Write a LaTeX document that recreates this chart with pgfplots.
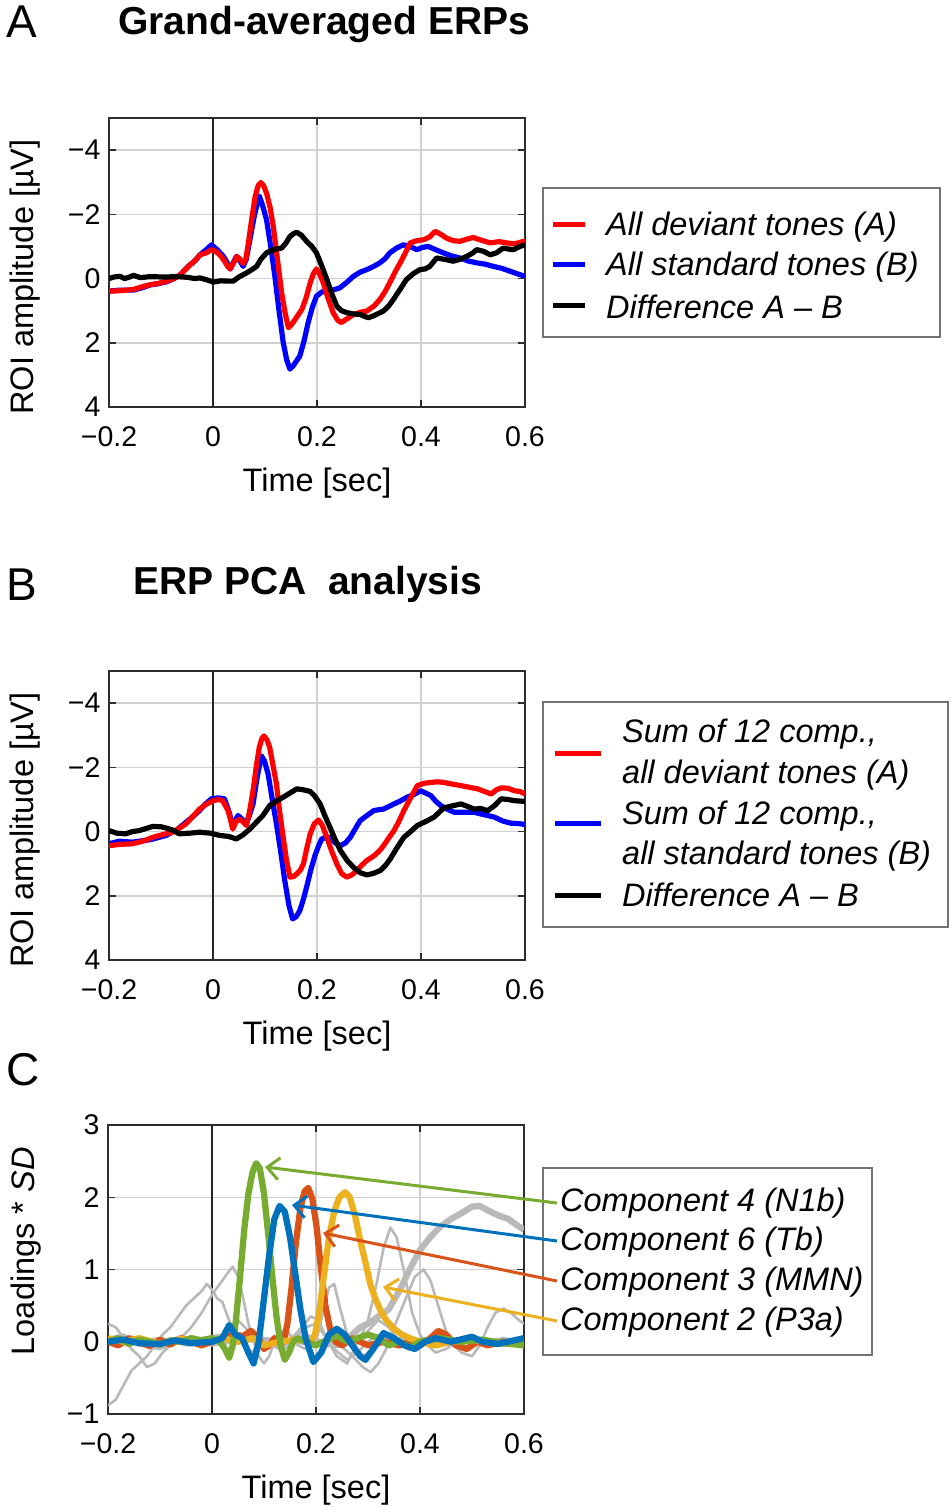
\documentclass[border=0pt]{standalone}
\usepackage{pgfplots}
\pgfplotsset{compat=1.18}
\usepackage{fontspec}
\setmainfont{Liberation Sans}
\usetikzlibrary{arrows.meta}
\definecolor{cblue}{rgb}{0,0.447,0.741}
\definecolor{corange}{rgb}{0.85,0.325,0.098}
\definecolor{cyellow}{rgb}{0.929,0.694,0.125}
\definecolor{cgreen}{rgb}{0.466,0.674,0.188}
\definecolor{cgray}{RGB}{185,185,185}
\definecolor{axc}{RGB}{45,45,45}
\pgfplotsset{
  erp/.style={
    scale only axis, width=416pt, height=289pt, anchor=south west,
    xmin=-0.2, xmax=0.6,
    xtick={-0.2,0,0.2,0.4,0.6}, xticklabels={−0.2,0,0.2,0.4,0.6},
    grid=major, grid style={line width=1.5pt, color=black!18},
    axis line style={line width=1.8pt, color=axc},
    tick style={line width=1.5pt, color=axc},
    major tick length=7pt, tick align=inside, tick pos=both,
    ticklabel style={font=\fontsize{28.5}{30}\selectfont, text=black},
    xticklabel style={yshift=-16pt},
    yticklabel style={xshift=-5pt},
    label style={font=\fontsize{32.5}{36}\selectfont},
    xlabel={Time [sec]},
    xlabel style={anchor=center, at={(axis description cs:0.5,-0.262)}},
    ylabel style={anchor=center, rotate=0},
    /pgf/number format/assume math mode=true,
  },
  abaxis/.style={erp, y dir=reverse, ymin=-5, ymax=4,
    ytick={-4,-2,0,2,4}, yticklabels={−4,−2,0,2,4},
    ylabel={ROI amplitude [µV]},
    ylabel style={at={(axis description cs:-0.202,0.45)}}},
  erpline/.style={line width=5.2pt, line join=round},
  compline/.style={line width=6.3pt, line join=round},
  thingray/.style={cgray, line width=2.6pt, line join=round},
}
\begin{document}
\begin{tikzpicture}
\useasboundingbox (0pt,0pt) rectangle (952pt,-1507pt);
\fill[white] (0pt,0pt) rectangle (952pt,-1507pt);

% ---------------- Panel A ----------------
\node[anchor=west, inner sep=0pt, font=\fontsize{46}{50}\selectfont] at (6pt,-22pt) {A};
\node[anchor=west, inner sep=0pt, font=\fontsize{39}{44}\selectfont\bfseries] at (118pt,-25pt) {Grand-averaged ERPs};
\begin{axis}[abaxis, at={(109pt,-407pt)}]
\addplot[black!85, line width=1.5pt, forget plot] coordinates {(0,-5) (0,4)};
\addplot[blue, erpline] coordinates {
(-0.2,0.39)(-0.18,0.36)(-0.153,0.36)(-0.135,0.28)(-0.121,0.2)(-0.105,0.16)(-0.089,0.1)(-0.075,0.0)(-0.063,-0.12)(-0.052,-0.3)(-0.044,-0.43)(-0.035,-0.55)(-0.025,-0.74)(-0.013,-0.9)(-0.003,-1.05)(0.008,-0.9)(0.02,-0.69)(0.027,-0.5)(0.033,-0.30)(0.039,-0.5)(0.045,-0.69)(0.052,-0.55)(0.058,-0.38)(0.064,-0.6)(0.071,-1.21)(0.08,-2.0)(0.089,-2.57)(0.095,-2.3)(0.103,-1.83)(0.111,-1.0)(0.119,-0.07)(0.127,1.0)(0.135,1.99)(0.142,2.55)(0.148,2.82)(0.155,2.7)(0.167,2.41)(0.175,1.95)(0.183,1.37)(0.191,0.9)(0.199,0.55)(0.209,0.42)(0.219,0.39)(0.232,0.35)(0.244,0.29)(0.257,0.12)(0.27,-0.07)(0.283,-0.2)(0.296,-0.28)(0.309,-0.38)(0.321,-0.49)(0.331,-0.62)(0.34,-0.8)(0.353,-0.95)(0.366,-1.05)(0.379,-1.0)(0.392,-0.9)(0.403,-0.97)(0.414,-1.0)(0.428,-0.9)(0.443,-0.8)(0.46,-0.7)(0.475,-0.64)(0.49,-0.55)(0.507,-0.49)(0.523,-0.45)(0.539,-0.38)(0.555,-0.32)(0.571,-0.23)(0.585,-0.15)(0.6,-0.07)};
\addplot[red, erpline] coordinates {
(-0.2,0.39)(-0.18,0.38)(-0.153,0.34)(-0.135,0.25)(-0.121,0.19)(-0.105,0.15)(-0.089,0.08)(-0.075,0.0)(-0.063,-0.12)(-0.052,-0.3)(-0.044,-0.43)(-0.035,-0.55)(-0.025,-0.74)(-0.013,-0.8)(-0.003,-0.9)(0.005,-0.85)(0.013,-0.74)(0.022,-0.55)(0.028,-0.38)(0.033,-0.30)(0.04,-0.5)(0.046,-0.69)(0.052,-0.6)(0.058,-0.47)(0.063,-0.6)(0.068,-1.1)(0.074,-1.8)(0.081,-2.55)(0.087,-2.9)(0.092,-2.99)(0.097,-2.9)(0.103,-2.66)(0.11,-2.2)(0.116,-1.62)(0.124,-0.6)(0.132,0.44)(0.139,1.1)(0.145,1.53)(0.15,1.45)(0.154,1.37)(0.163,1.15)(0.171,0.96)(0.179,0.6)(0.187,0.13)(0.193,-0.15)(0.199,-0.3)(0.205,-0.15)(0.212,0.13)(0.221,0.6)(0.231,1.06)(0.24,1.3)(0.247,1.37)(0.258,1.25)(0.27,1.12)(0.283,1.05)(0.296,1.01)(0.31,0.85)(0.321,0.65)(0.331,0.4)(0.34,0.13)(0.35,-0.2)(0.36,-0.49)(0.37,-0.8)(0.379,-1.11)(0.392,-1.18)(0.405,-1.21)(0.417,-1.3)(0.427,-1.47)(0.438,-1.38)(0.449,-1.26)(0.462,-1.18)(0.475,-1.16)(0.487,-1.22)(0.5,-1.28)(0.515,-1.2)(0.533,-1.11)(0.55,-1.15)(0.565,-1.11)(0.58,-1.08)(0.597,-1.16)(0.6,-1.15)};
\addplot[black, erpline] coordinates {
(-0.2,0.0)(-0.19,-0.05)(-0.179,-0.07)(-0.17,0.0)(-0.16,-0.05)(-0.153,-0.1)(-0.14,-0.03)(-0.12,-0.06)(-0.1,-0.05)(-0.089,-0.05)(-0.07,-0.06)(-0.05,-0.04)(-0.035,0.0)(-0.025,-0.02)(-0.01,0.05)(0.001,0.11)(0.015,0.07)(0.03,0.08)(0.039,0.08)(0.05,-0.05)(0.065,-0.18)(0.075,-0.28)(0.084,-0.38)(0.092,-0.6)(0.103,-0.8)(0.115,-0.9)(0.132,-0.95)(0.14,-1.1)(0.148,-1.31)(0.155,-1.4)(0.161,-1.44)(0.17,-1.35)(0.18,-1.16)(0.19,-1.0)(0.199,-0.8)(0.209,-0.4)(0.219,0.03)(0.228,0.45)(0.238,0.86)(0.247,1.0)(0.257,1.06)(0.27,1.1)(0.283,1.12)(0.292,1.18)(0.299,1.22)(0.31,1.15)(0.328,1.01)(0.338,0.85)(0.347,0.65)(0.36,0.33)(0.372,0.03)(0.385,-0.15)(0.398,-0.28)(0.408,-0.3)(0.417,-0.38)(0.43,-0.64)(0.445,-0.6)(0.462,-0.54)(0.475,-0.6)(0.488,-0.69)(0.5,-0.8)(0.507,-0.9)(0.52,-0.85)(0.533,-0.74)(0.545,-0.8)(0.558,-0.95)(0.568,-0.92)(0.578,-0.9)(0.59,-1.0)(0.6,-1.05)};
\end{axis}
% legend A
\draw[line width=1.5pt, black!55] (543pt,-188pt) rectangle (940pt,-337pt);
\draw[red, line width=5pt] (553pt,-224pt) -- (585pt,-224pt);
\draw[blue, line width=5pt] (553pt,-264pt) -- (585pt,-264pt);
\draw[black, line width=5pt] (553pt,-305pt) -- (585pt,-305pt);
\begin{scope}[every node/.style={anchor=west, inner sep=0pt, font=\fontsize{32.5}{36}\selectfont\itshape}]
\node at (606pt,-227pt) {All deviant tones (A)};
\node at (606pt,-267pt) {All standard tones (B)};
\node at (606pt,-307pt) {Difference A – B};
\end{scope}

% ---------------- Panel B ----------------
\node[anchor=west, inner sep=0pt, font=\fontsize{46}{50}\selectfont] at (6pt,-585pt) {B};
\node[anchor=west, inner sep=0pt, font=\fontsize{39}{44}\selectfont\bfseries] at (133pt,-584pt) {ERP PCA\ \ analysis};
\begin{axis}[abaxis, at={(109pt,-960pt)}]
\addplot[black!85, line width=1.5pt, forget plot] coordinates {(0,-5) (0,4)};
\addplot[blue, erpline] coordinates {
(-0.2,0.38)(-0.18,0.3)(-0.155,0.33)(-0.12,0.25)(-0.09,0.12)(-0.07,-0.05)(-0.052,-0.29)(-0.04,-0.45)(-0.026,-0.65)(-0.015,-0.85)(-0.003,-1.02)(0.01,-1.05)(0.022,-1.02)(0.027,-0.8)(0.032,-0.55)(0.038,-0.13)(0.043,-0.35)(0.048,-0.5)(0.055,-0.4)(0.064,-0.24)(0.07,-0.5)(0.077,-0.86)(0.085,-1.7)(0.093,-2.36)(0.099,-2.2)(0.106,-1.79)(0.114,-1.0)(0.122,-0.24)(0.13,0.6)(0.138,1.52)(0.146,2.3)(0.153,2.72)(0.16,2.65)(0.167,2.46)(0.174,2.1)(0.18,1.73)(0.188,1.2)(0.196,0.75)(0.203,0.45)(0.209,0.23)(0.217,0.18)(0.225,0.18)(0.235,0.35)(0.245,0.44)(0.255,0.35)(0.264,0.18)(0.274,-0.1)(0.283,-0.34)(0.296,-0.5)(0.309,-0.65)(0.318,-0.68)(0.328,-0.7)(0.338,-0.78)(0.348,-0.86)(0.36,-0.95)(0.373,-1.07)(0.386,-1.15)(0.399,-1.27)(0.409,-1.2)(0.419,-1.12)(0.428,-0.95)(0.438,-0.81)(0.45,-0.7)(0.464,-0.6)(0.477,-0.6)(0.489,-0.6)(0.502,-0.6)(0.515,-0.55)(0.528,-0.5)(0.541,-0.45)(0.557,-0.33)(0.573,-0.26)(0.587,-0.25)(0.6,-0.22)};
\addplot[red, erpline] coordinates {
(-0.2,0.44)(-0.18,0.4)(-0.155,0.38)(-0.135,0.3)(-0.116,0.18)(-0.098,0.1)(-0.078,0.02)(-0.065,-0.1)(-0.052,-0.24)(-0.04,-0.45)(-0.026,-0.7)(-0.013,-0.85)(0.0,-0.96)(0.01,-1.0)(0.019,-0.96)(0.024,-0.8)(0.029,-0.65)(0.034,-0.35)(0.038,-0.08)(0.044,-0.3)(0.051,-0.39)(0.058,-0.3)(0.064,-0.19)(0.07,-0.6)(0.077,-1.27)(0.083,-2.0)(0.089,-2.62)(0.094,-2.9)(0.098,-2.98)(0.104,-2.85)(0.109,-2.62)(0.115,-2.1)(0.122,-1.48)(0.128,-0.65)(0.135,0.18)(0.141,0.85)(0.148,1.42)(0.155,1.4)(0.161,1.32)(0.168,1.2)(0.174,1.0)(0.18,0.55)(0.187,0.07)(0.195,-0.25)(0.203,-0.36)(0.21,-0.2)(0.219,0.18)(0.228,0.6)(0.238,1.0)(0.247,1.3)(0.257,1.42)(0.267,1.35)(0.277,1.21)(0.286,1.05)(0.296,0.9)(0.31,0.75)(0.32,0.6)(0.328,0.44)(0.338,0.2)(0.348,-0.03)(0.357,-0.3)(0.367,-0.65)(0.38,-1.05)(0.393,-1.43)(0.405,-1.5)(0.419,-1.53)(0.432,-1.55)(0.444,-1.53)(0.46,-1.48)(0.477,-1.43)(0.493,-1.38)(0.509,-1.33)(0.522,-1.25)(0.535,-1.17)(0.545,-1.3)(0.554,-1.36)(0.567,-1.35)(0.58,-1.27)(0.59,-1.25)(0.6,-1.17)};
\addplot[black, erpline] coordinates {
(-0.2,-0.03)(-0.185,0.05)(-0.168,0.07)(-0.155,0.0)(-0.142,-0.03)(-0.128,-0.1)(-0.116,-0.16)(-0.1,-0.15)(-0.09,-0.11)(-0.078,-0.05)(-0.065,0.07)(-0.045,0.05)(-0.026,0.02)(-0.005,0.05)(0.013,0.12)(0.03,0.15)(0.045,0.23)(0.058,0.1)(0.071,-0.08)(0.084,-0.3)(0.096,-0.5)(0.109,-0.81)(0.122,-0.95)(0.135,-1.07)(0.148,-1.2)(0.161,-1.33)(0.174,-1.3)(0.187,-1.25)(0.196,-1.1)(0.206,-0.86)(0.215,-0.5)(0.225,-0.13)(0.235,0.25)(0.245,0.59)(0.258,0.9)(0.27,1.11)(0.283,1.28)(0.296,1.35)(0.309,1.3)(0.322,1.21)(0.332,1.05)(0.341,0.85)(0.354,0.5)(0.367,0.18)(0.38,0.0)(0.393,-0.19)(0.41,-0.32)(0.425,-0.45)(0.435,-0.6)(0.444,-0.74)(0.46,-0.8)(0.477,-0.86)(0.49,-0.78)(0.502,-0.7)(0.515,-0.72)(0.528,-0.65)(0.541,-0.8)(0.554,-1.02)(0.567,-1.0)(0.58,-0.96)(0.59,-0.95)(0.6,-0.94)};
\end{axis}
% legend B
\draw[line width=1.5pt, black!55] (543pt,-702pt) rectangle (948pt,-927pt);
\draw[red, line width=5pt] (555pt,-753pt) -- (601pt,-753pt);
\draw[blue, line width=5pt] (555pt,-823pt) -- (601pt,-823pt);
\draw[black, line width=5pt] (555pt,-895pt) -- (601pt,-895pt);
\begin{scope}[every node/.style={anchor=west, inner sep=0pt, font=\fontsize{32.5}{36}\selectfont\itshape}]
\node at (622pt,-734pt) {Sum of 12 comp.,};
\node at (622pt,-775pt) {all deviant tones (A)};
\node at (622pt,-816pt) {Sum of 12 comp.,};
\node at (622pt,-856pt) {all standard tones (B)};
\node at (622pt,-895pt) {Difference A – B};
\end{scope}

% ---------------- Panel C ----------------
\node[anchor=west, inner sep=0pt, font=\fontsize{46}{50}\selectfont] at (6pt,-1070pt) {C};
\begin{axis}[erp, at={(108pt,-1414pt)}, ymin=-1, ymax=3,
  ytick={-1,0,1,2,3}, yticklabels={−1,0,1,2,3},
  ylabel={Loadings * \textit{SD}},
  ylabel style={at={(axis description cs:-0.198,0.563)}}]
\addplot[black!85, line width=1.5pt, forget plot] coordinates {(0,-1) (0,3)};
% thin gray components
\addplot[thingray] coordinates {
(-0.2,-0.88)(-0.185,-0.8)(-0.17,-0.6)(-0.155,-0.4)(-0.14,-0.3)(-0.125,-0.2)(-0.11,-0.05)(-0.095,0.1)(-0.08,0.2)(-0.065,0.35)(-0.05,0.5)(-0.035,0.6)(-0.02,0.7)(-0.01,0.8)(0.0,0.72)(0.01,0.6)(0.02,0.55)(0.03,0.35)(0.045,0.1)(0.06,-0.05)(0.075,-0.15)(0.09,-0.05)(0.105,0.05)(0.12,0.0)(0.14,-0.1)(0.16,0.05)(0.18,0.2)(0.2,0.25)(0.215,0.1)(0.235,-0.1)(0.26,-0.25)(0.28,-0.15)(0.3,0.0)(0.32,0.1)(0.35,0.0)(0.38,-0.05)(0.42,0.0)(0.46,-0.05)(0.5,0.0)(0.55,-0.05)(0.6,-0.05)};
\addplot[thingray] coordinates {
(-0.2,0.25)(-0.185,0.2)(-0.17,0.05)(-0.155,-0.1)(-0.14,-0.2)(-0.125,-0.35)(-0.11,-0.3)(-0.095,-0.15)(-0.08,-0.05)(-0.06,0.05)(-0.04,0.2)(-0.02,0.4)(0.0,0.65)(0.015,0.8)(0.03,0.95)(0.04,1.04)(0.05,0.9)(0.06,0.6)(0.07,0.25)(0.08,0.0)(0.09,-0.2)(0.1,-0.3)(0.11,-0.2)(0.12,0.0)(0.135,0.15)(0.15,0.1)(0.165,-0.05)(0.18,-0.1)(0.2,0.0)(0.215,0.45)(0.225,0.75)(0.235,0.8)(0.245,0.5)(0.26,0.1)(0.275,-0.1)(0.29,-0.2)(0.31,-0.1)(0.33,0.0)(0.36,0.05)(0.4,-0.05)(0.45,0.05)(0.5,0.0)(0.55,-0.05)(0.6,0.0)};
\addplot[thingray] coordinates {
(-0.2,0.05)(-0.15,0.0)(-0.1,0.05)(-0.05,-0.05)(0.0,0.0)(0.03,0.05)(0.06,0.0)(0.08,0.1)(0.1,0.05)(0.12,-0.05)(0.15,0.0)(0.18,0.1)(0.2,0.05)(0.22,-0.05)(0.25,0.0)(0.27,-0.05)(0.285,0.05)(0.3,0.3)(0.315,0.75)(0.33,1.3)(0.343,1.58)(0.355,1.45)(0.37,0.95)(0.385,0.4)(0.4,0.1)(0.415,-0.05)(0.43,-0.15)(0.45,-0.1)(0.47,0.0)(0.5,0.05)(0.53,-0.05)(0.56,0.0)(0.6,0.05)};
\addplot[thingray] coordinates {
(-0.2,0.0)(-0.15,0.05)(-0.1,0.0)(-0.05,0.05)(0.0,-0.05)(0.05,0.0)(0.1,0.05)(0.15,0.0)(0.2,-0.05)(0.24,0.0)(0.27,-0.2)(0.29,-0.35)(0.305,-0.42)(0.32,-0.3)(0.335,-0.1)(0.35,0.2)(0.37,0.55)(0.39,0.9)(0.407,1.0)(0.42,0.85)(0.435,0.5)(0.45,0.15)(0.465,-0.05)(0.48,-0.15)(0.5,-0.2)(0.515,-0.05)(0.53,0.2)(0.545,0.4)(0.56,0.46)(0.575,0.4)(0.59,0.3)(0.6,0.25)};
\addplot[thingray] coordinates {
(-0.2,0.05)(-0.17,0.1)(-0.14,-0.05)(-0.1,-0.1)(-0.06,0.0)(-0.02,0.05)(0.02,0.1)(0.05,0.3)(0.07,0.15)(0.1,0.0)(0.13,-0.1)(0.16,0.1)(0.19,0.35)(0.205,0.3)(0.22,0.05)(0.24,-0.2)(0.26,-0.3)(0.28,0.0)(0.3,0.15)(0.32,0.3)(0.34,0.2)(0.36,0.0)(0.38,-0.1)(0.41,0.05)(0.44,0.0)(0.48,-0.1)(0.52,0.0)(0.56,0.05)(0.6,0.0)};
% thick gray component
\addplot[cgray, compline] coordinates {
(-0.2,0.0)(-0.15,0.02)(-0.1,-0.03)(-0.05,0.02)(0.0,0.0)(0.04,0.05)(0.08,0.1)(0.1,0.0)(0.13,-0.05)(0.16,0.05)(0.2,0.0)(0.24,-0.05)(0.27,0.1)(0.285,0.2)(0.3,0.25)(0.32,0.35)(0.34,0.45)(0.36,0.7)(0.38,1.0)(0.4,1.27)(0.42,1.45)(0.44,1.6)(0.46,1.7)(0.48,1.78)(0.5,1.87)(0.515,1.88)(0.53,1.82)(0.55,1.75)(0.57,1.7)(0.585,1.62)(0.6,1.55)};
% component 3 (MMN)
\addplot[corange, compline] coordinates {
(-0.2,0.0)(-0.18,-0.05)(-0.16,0.05)(-0.14,0.0)(-0.12,-0.06)(-0.1,0.03)(-0.08,-0.04)(-0.06,0.05)(-0.04,0.0)(-0.02,-0.05)(0.0,0.0)(0.02,0.05)(0.04,0.1)(0.06,0.08)(0.075,0.15)(0.09,0.05)(0.1,-0.1)(0.11,-0.05)(0.12,0.05)(0.13,0.0)(0.138,0.0)(0.145,0.25)(0.153,0.75)(0.161,1.35)(0.17,1.85)(0.178,2.08)(0.185,2.13)(0.193,1.98)(0.201,1.6)(0.209,1.05)(0.218,0.5)(0.228,0.15)(0.238,0.0)(0.25,-0.05)(0.27,0.05)(0.3,-0.05)(0.33,0.0)(0.36,-0.05)(0.38,0.0)(0.4,-0.05)(0.42,0.05)(0.435,0.15)(0.45,0.1)(0.47,-0.05)(0.49,-0.1)(0.51,0.0)(0.53,-0.05)(0.56,0.0)(0.6,-0.03)};
% component 2 (P3a)
\addplot[cyellow, compline] coordinates {
(-0.2,0.05)(-0.17,0.0)(-0.14,0.05)(-0.1,-0.03)(-0.06,0.04)(-0.02,0.0)(0.02,0.05)(0.05,0.0)(0.08,0.05)(0.1,-0.05)(0.13,0.0)(0.16,0.03)(0.19,0.0)(0.198,0.1)(0.206,0.4)(0.215,0.9)(0.225,1.45)(0.235,1.8)(0.245,2.0)(0.256,2.07)(0.265,2.0)(0.275,1.75)(0.285,1.4)(0.295,1.1)(0.305,0.78)(0.315,0.58)(0.325,0.42)(0.335,0.3)(0.35,0.18)(0.365,0.1)(0.38,0.05)(0.4,0.0)(0.43,-0.05)(0.46,0.0)(0.5,0.03)(0.55,-0.03)(0.6,0.0)};
% component 4 (N1b)
\addplot[cgreen, compline] coordinates {
(-0.2,0.0)(-0.18,0.05)(-0.16,-0.03)(-0.14,0.03)(-0.12,0.0)(-0.1,-0.04)(-0.08,0.02)(-0.06,0.0)(-0.04,0.05)(-0.02,0.02)(0.0,0.05)(0.015,0.0)(0.025,-0.1)(0.033,-0.22)(0.04,-0.05)(0.046,0.3)(0.054,0.9)(0.062,1.55)(0.07,2.05)(0.078,2.35)(0.085,2.47)(0.092,2.4)(0.1,2.05)(0.108,1.5)(0.116,0.9)(0.124,0.35)(0.132,-0.05)(0.14,-0.25)(0.148,-0.15)(0.156,0.0)(0.165,0.05)(0.18,0.0)(0.2,-0.05)(0.22,0.02)(0.24,0.08)(0.26,0.0)(0.28,0.05)(0.3,0.1)(0.32,0.05)(0.34,-0.05)(0.36,0.0)(0.38,-0.08)(0.4,0.0)(0.44,0.05)(0.48,0.0)(0.52,0.03)(0.56,-0.02)(0.6,-0.05)};
% component 6 (Tb)
\addplot[cblue, compline] coordinates {
(-0.2,0.0)(-0.17,0.03)(-0.14,-0.02)(-0.1,-0.03)(-0.07,0.02)(-0.04,-0.02)(0.0,0.0)(0.02,0.05)(0.033,0.23)(0.045,0.1)(0.058,0.05)(0.07,-0.15)(0.08,-0.3)(0.09,0.0)(0.1,0.6)(0.11,1.2)(0.12,1.7)(0.13,1.88)(0.14,1.8)(0.15,1.45)(0.16,0.95)(0.17,0.45)(0.18,0.05)(0.195,-0.28)(0.21,-0.15)(0.225,0.1)(0.24,0.18)(0.255,0.1)(0.27,-0.05)(0.285,-0.2)(0.295,-0.25)(0.31,-0.1)(0.33,0.12)(0.35,0.05)(0.37,-0.05)(0.39,-0.1)(0.41,0.0)(0.43,0.05)(0.46,0.0)(0.5,0.07)(0.52,0.0)(0.55,-0.03)(0.6,0.05)};
\end{axis}
% legend C
\draw[line width=1.5pt, black!55] (543pt,-1168pt) rectangle (872pt,-1355pt);
\begin{scope}[every node/.style={anchor=west, inner sep=0pt, font=\fontsize{32.5}{36}\selectfont\itshape}]
\node at (560pt,-1203pt) {Component 4 (N1b)};
\node at (560pt,-1242pt) {Component 6 (Tb)};
\node at (560pt,-1282pt) {Component 3 (MMN)};
\node at (560pt,-1322pt) {Component 2 (P3a)};
\end{scope}
\begin{scope}[line width=3pt, arrows={-{Straight Barb[length=12pt,width=22pt]}}]
\draw[cgreen] (557pt,-1203pt) -- (265pt,-1167pt);
\draw[cblue] (557pt,-1241pt) -- (292pt,-1205pt);
\draw[corange] (557pt,-1281pt) -- (323pt,-1233pt);
\draw[cyellow] (557pt,-1321pt) -- (383pt,-1287pt);
\end{scope}
\end{tikzpicture}
\end{document}
